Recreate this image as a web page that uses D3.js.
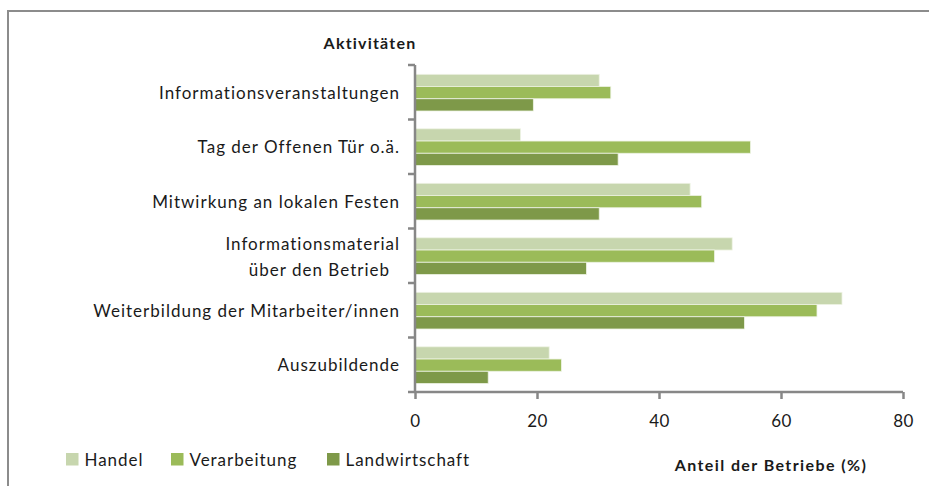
<!DOCTYPE html>
<html>
<head>
<meta charset="utf-8">
<script src="https://cdn.jsdelivr.net/npm/d3@7"></script>
<style>
  body { margin: 0; background: #fff; }
  text { font-family: Lato, "Open Sans", sans-serif; fill: #1a1a1a; }
</style>
</head>
<body>
<div id="chart"></div>
<script>
// categories (top to bottom) and one value array per series
const activities = [
    "Informationsveranstaltungen",
    "Tag der Offenen Tür o.ä.",
    "Mitwirkung an lokalen Festen",
    "Informationsmaterial|über den Betrieb",
    "Weiterbildung der Mitarbeiter/innen",
    "Auszubildende"
];
const seriesNames = ["Handel", "Verarbeitung", "Landwirtschaft"];
const handel = [30.2, 17.3, 45.1, 52, 70, 22];
const verarbeitung = [32.1, 55, 47, 49.1, 65.9, 24];
const landwirtschaft = [19.4, 33.3, 30.2, 28.1, 54, 12];
const xTicks = [0, 20, 40, 60, 80];

const seriesValues = [handel, verarbeitung, landwirtschaft];
const colors = ["#c7d6ae", "#9bbb59", "#7e9949"];

const width = 929, height = 486;
const svg = d3.select("#chart").append("svg")
    .attr("width", width)
    .attr("height", height);

// outer frame (only top and left visible in the picture)
svg.append("path")
    .attr("d", `M8,${height} L8,11 L${width},11`)
    .attr("fill", "none")
    .attr("stroke", "#8c8c8c")
    .attr("stroke-width", 2);

const plot = {left: 415, right: 903, top: 65, bottom: 392};

const x = d3.scaleLinear().domain([0, 80]).range([plot.left, plot.right]);
const y = d3.scaleBand().domain(activities).range([plot.top, plot.bottom]).padding(0);
const ySub = d3.scaleBand()
    .domain(seriesNames)
    .range([9.3, y.bandwidth() - 8.5])
    .padding(0);

const rows = activities.map((a, i) => ({
    key: a,
    values: seriesNames.map((s, j) => ({ series: s, value: seriesValues[j][i], color: colors[j] }))
}));

// bars
svg.append("g")
    .selectAll("g")
    .data(rows)
    .join("g")
    .attr("transform", d => `translate(0,${y(d.key)})`)
    .selectAll("rect")
    .data(d => d.values)
    .join("rect")
    .attr("x", x(0))
    .attr("y", d => ySub(d.series))
    .attr("width", d => x(d.value) - x(0))
    .attr("height", ySub.bandwidth())
    .attr("fill", d => d.color)
    .attr("stroke", "#eef3e4")
    .attr("stroke-width", 0.8);

// x axis
const xAxis = svg.append("g")
    .attr("transform", `translate(0,${plot.bottom})`)
    .call(d3.axisBottom(x).tickValues(xTicks).tickSize(7).tickPadding(16));
xAxis.select(".domain").attr("stroke", "#878787").attr("stroke-width", 2.5)
    .attr("d", `M${plot.left - 7},0H${plot.right}`);
xAxis.selectAll(".tick line").attr("stroke", "#878787").attr("stroke-width", 2.5);
xAxis.selectAll(".tick text")
    .style("font-size", "17px")
    .style("font-family", "Lato, sans-serif")
    .attr("letter-spacing", "0.5px")
    .attr("fill", "#1a1a1a");

// y axis
const yAxis = svg.append("g")
    .attr("transform", `translate(${plot.left},0)`)
    .call(d3.axisLeft(y).tickSize(0).tickFormat(""));
yAxis.select(".domain").attr("stroke", "#878787").attr("stroke-width", 2.5)
    .attr("d", `M0,${plot.top}V${plot.bottom}`);
// category boundary ticks
svg.append("g")
    .selectAll("line")
    .data(activities)
    .join("line")
    .attr("x1", plot.left - 7).attr("x2", plot.left)
    .attr("y1", d => y(d)).attr("y2", d => y(d))
    .attr("stroke", "#878787").attr("stroke-width", 2.5);

// category labels
svg.append("g")
    .selectAll("text")
    .data(activities)
    .join("text")
    .attr("text-anchor", "end")
    .style("font-size", "17px")
    .attr("letter-spacing", "1px")
    .each(function(d) {
        const lines = d.split("|");
        const cy = y(d) + 9.3 + ySub.bandwidth() * 1.5;
        const t = d3.select(this);
        if (lines.length === 1) {
            t.append("tspan").attr("x", 400).attr("y", cy + 6).text(lines[0]);
        } else {
            t.append("tspan").attr("x", 400).attr("y", cy - 6).text(lines[0]);
            t.append("tspan").attr("x", 390).attr("y", cy + 20).text(lines[1]);
        }
    });

// axis titles
svg.append("text")
    .attr("x", 370).attr("y", 49)
    .attr("text-anchor", "middle")
    .style("font-size", "16px")
    .style("font-weight", "bold")
    .attr("letter-spacing", "1.2px")
    .text("Aktivitäten");

svg.append("text")
    .attr("x", 771).attr("y", 471)
    .attr("text-anchor", "middle")
    .style("font-size", "16px")
    .style("font-weight", "bold")
    .attr("letter-spacing", "1.4px")
    .text("Anteil der Betriebe (%)");

// legend
const legendX = [66, 171, 327];
const legend = svg.append("g")
    .selectAll("g")
    .data(seriesNames)
    .join("g")
    .attr("transform", (d, i) => `translate(${legendX[i]},453)`);
legend.append("rect")
    .attr("width", 12.5).attr("height", 12.5)
    .attr("fill", (d, i) => colors[i]);
legend.append("text")
    .attr("x", 18.5).attr("y", 13)
    .style("font-size", "17px")
    .attr("letter-spacing", "0.95px")
    .text(d => d);
</script>
</body>
</html>
